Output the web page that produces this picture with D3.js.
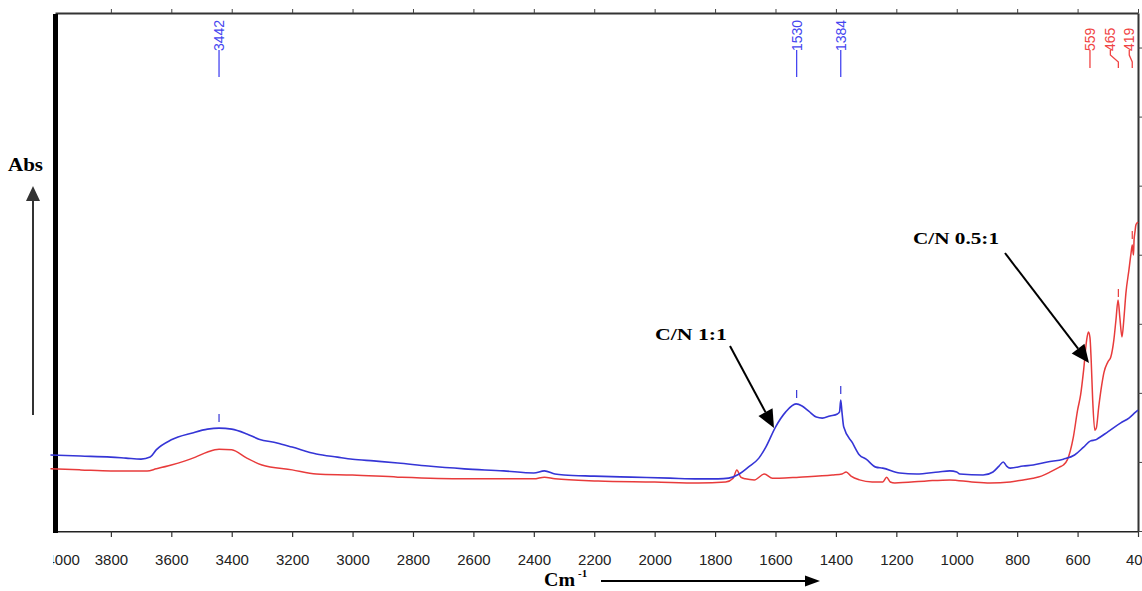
<!DOCTYPE html>
<html>
<head>
<meta charset="utf-8">
<script src="https://cdn.jsdelivr.net/npm/d3@7"></script>
<style>
  body { margin: 0; background: #fff; }
</style>
</head>
<body>
<div id="chart"></div>
<script>
const xTicks = [4000, 3800, 3600, 3400, 3200, 3000, 2800, 2600, 2400, 2200, 2000, 1800, 1600, 1400, 1200, 1000, 800, 600, 400];
const yTicks = [0, 0.2, 0.4, 0.6, 0.8, 1.0, 1.2, 1.4];

// C/N 1:1 (blue), [wavenumber, absorbance]
const cn11 = [[4000,0.220],[3900,0.217],[3800,0.214],[3750,0.211],[3700,0.208],[3670,0.214],[3650,0.235],[3600,0.264],[3530,0.284],[3480,0.295],[3442,0.298],[3400,0.295],[3350,0.281],[3310,0.266],[3250,0.255],[3200,0.243],[3120,0.223],[3050,0.214],[3000,0.208],[2930,0.203],[2850,0.197],[2750,0.188],[2630,0.180],[2500,0.174],[2400,0.168],[2365,0.174],[2330,0.165],[2300,0.162],[2200,0.159],[2077,0.156],[1950,0.153],[1855,0.151],[1790,0.151],[1755,0.153],[1720,0.165],[1690,0.185],[1655,0.211],[1632,0.243],[1600,0.301],[1566,0.345],[1532,0.368],[1512,0.362],[1490,0.347],[1465,0.330],[1445,0.327],[1420,0.333],[1395,0.339],[1388,0.345],[1384,0.379],[1380,0.345],[1374,0.301],[1345,0.255],[1322,0.220],[1300,0.208],[1268,0.185],[1245,0.182],[1189,0.168],[1133,0.165],[1060,0.171],[1023,0.174],[1000,0.171],[990,0.165],[913,0.162],[880,0.171],[860,0.188],[846,0.200],[835,0.188],[823,0.182],[780,0.188],[747,0.191],[700,0.200],[647,0.208],[610,0.220],[580,0.243],[557,0.261],[540,0.264],[534,0.267],[500,0.287],[457,0.313],[430,0.327],[407,0.345],[400,0.350]];

// C/N 0.5:1 (red)
const cn05 = [[4000,0.180],[3900,0.177],[3800,0.174],[3680,0.174],[3650,0.180],[3600,0.191],[3520,0.214],[3480,0.229],[3442,0.237],[3400,0.235],[3350,0.211],[3300,0.191],[3200,0.177],[3120,0.165],[3000,0.162],[2850,0.156],[2630,0.151],[2400,0.151],[2365,0.156],[2330,0.151],[2187,0.145],[2000,0.142],[1855,0.139],[1765,0.142],[1740,0.153],[1728,0.177],[1715,0.156],[1700,0.151],[1670,0.148],[1637,0.165],[1610,0.153],[1588,0.153],[1522,0.156],[1412,0.162],[1380,0.165],[1366,0.171],[1350,0.159],[1322,0.148],[1280,0.142],[1245,0.142],[1232,0.156],[1220,0.142],[1205,0.139],[1100,0.145],[1023,0.148],[950,0.142],[890,0.139],[823,0.142],[780,0.148],[747,0.153],[720,0.159],[690,0.171],[660,0.185],[647,0.191],[634,0.206],[614,0.272],[600,0.350],[590,0.394],[580,0.466],[570,0.553],[564,0.576],[559,0.560],[555,0.495],[550,0.379],[543,0.292],[538,0.298],[530,0.359],[520,0.423],[513,0.458],[500,0.489],[490,0.504],[480,0.553],[473,0.611],[466,0.669],[460,0.617],[453,0.562],[447,0.611],[440,0.689],[430,0.756],[423,0.805],[419,0.828],[415,0.799],[413,0.843],[410,0.866],[407,0.886],[403,0.892],[400,0.895]];

const bluePeaks = [3442, 1530, 1384];
const redPeaks = [559, 465, 419];

const width = 1142;
const height = 591;
const margin = { top: 13, right: 4, bottom: 60, left: 55 };

const blue = "#3535d6";
const blueText = "#4646f0";
const red = "#e83b3b";
const redText = "#f04444";

const svg = d3.select("#chart")
    .append("svg")
    .attr("width", width)
    .attr("height", height);

const x = d3.scaleLinear()
    .domain([3985, 400])
    .range([margin.left, width - margin.right]);

const y = d3.scaleLinear()
    .domain([0, 1.5])
    .range([height - margin.bottom, margin.top]);

const bottomY = height - margin.bottom;

svg.append("clipPath").attr("id", "axisClip")
    .append("rect")
    .attr("x", 53).attr("y", 0)
    .attr("width", width).attr("height", height);

// bottom axis
const xAxis = svg.append("g")
    .attr("transform", `translate(0,${bottomY})`)
    .attr("clip-path", "url(#axisClip)")
    .call(d3.axisBottom(x).tickValues(xTicks).tickSize(6).tickSizeOuter(0).tickFormat(d3.format("d")));

xAxis.select(".domain").attr("stroke", "#222").attr("stroke-width", 2);
xAxis.selectAll(".tick line").attr("stroke", "#333").attr("stroke-width", 1.2);
xAxis.selectAll(".tick text")
    .attr("y", 23)
    .style("font-family", "'Liberation Sans', Arial, sans-serif")
    .style("font-size", "15px")
    .attr("fill", "#222");

// the first label sits shifted and is cut by the frame
xAxis.selectAll(".tick").filter((d) => d === 4000).select("text")
    .attr("text-anchor", "start")
    .attr("x", 46 - x(4000));

// top ticks
const topAxis = svg.append("g")
    .attr("transform", `translate(0,${margin.top})`)
    .call(d3.axisTop(x).tickValues(xTicks.filter((d) => d < 3985)).tickSize(4).tickSizeOuter(0).tickFormat(""));
topAxis.select(".domain").attr("stroke", "#333").attr("stroke-width", 2);
topAxis.selectAll(".tick line").attr("stroke", "#444");

// right ticks
const rightAxis = svg.append("g")
    .attr("transform", `translate(${width - margin.right},0)`)
    .call(d3.axisRight(y).tickValues(yTicks).tickSize(4).tickSizeOuter(0).tickFormat(""));
rightAxis.select(".domain").attr("stroke", "#333").attr("stroke-width", 2);
rightAxis.selectAll(".tick line").attr("stroke", "#444");

// thick left frame
svg.append("rect")
    .attr("x", margin.left - 2)
    .attr("y", margin.top + 1)
    .attr("width", 5)
    .attr("height", bottomY - margin.top + 1)
    .attr("fill", "#000");

// spectra
const line = d3.line()
    .x((d) => x(d[0]))
    .y((d) => y(d[1]))
    .curve(d3.curveMonotoneX);

svg.append("path")
    .datum(cn05)
    .attr("d", line)
    .attr("fill", "none")
    .attr("stroke", red)
    .attr("stroke-width", 1.5);

svg.append("path")
    .datum(cn11)
    .attr("d", line)
    .attr("fill", "none")
    .attr("stroke", blue)
    .attr("stroke-width", 1.6);

function valueAt(series, wn) {
    for (let i = 1; i < series.length; i++) {
        const a = series[i - 1], b = series[i];
        if (wn <= a[0] && wn >= b[0]) {
            const t = (a[0] - wn) / (a[0] - b[0]);
            return a[1] + t * (b[1] - a[1]);
        }
    }
    return series[series.length - 1][1];
}

// peak markers on the curves
function peakMarks(peaks, series, color) {
    svg.selectAll(null)
        .data(peaks)
        .enter()
        .append("line")
        .attr("x1", (d) => x(d))
        .attr("x2", (d) => x(d))
        .attr("y1", (d) => y(valueAt(series, d)) - 14)
        .attr("y2", (d) => y(valueAt(series, d)) - 6)
        .attr("stroke", color)
        .attr("stroke-width", 1.2);
}
peakMarks(bluePeaks, cn11, blue);
peakMarks(redPeaks.slice(1), cn05, red);

// peak labels at the top
const labelBase = 51;
function peakLabels(peaks, color, lineEnd, offsets) {
    const g = svg.selectAll(null)
        .data(peaks)
        .enter()
        .append("g");

    g.append("text")
        .attr("transform", (d, i) => `translate(${x(d) + offsets[i]},${labelBase}) rotate(-90)`)
        .attr("dy", "0.35em")
        .attr("text-anchor", "start")
        .style("font-family", "'Liberation Sans', Arial, sans-serif")
        .style("font-size", "14px")
        .attr("fill", color)
        .text((d) => d);

    g.append("path")
        .attr("d", (d, i) => {
            const lx = x(d) + offsets[i];
            const px = x(d);
            if (offsets[i] === 0) return `M${px},${labelBase - 1}V${lineEnd}`;
            return `M${lx},${labelBase - 1}V${labelBase + 4}L${px},${labelBase + 11}V${lineEnd}`;
        })
        .attr("fill", "none")
        .attr("stroke", color)
        .attr("stroke-width", 1.3);
}
peakLabels(bluePeaks, blueText, 77, [0, 0, 0]);
peakLabels(redPeaks, redText, 68, [0, -8, -3]);

// arrow helper
function arrow(x1, y1, x2, y2, head, half, color, w) {
    const a = Math.atan2(y2 - y1, x2 - x1);
    const bx = x2 - head * Math.cos(a), by = y2 - head * Math.sin(a);
    svg.append("line")
        .attr("x1", x1).attr("y1", y1)
        .attr("x2", bx).attr("y2", by)
        .attr("stroke", color)
        .attr("stroke-width", w);
    const px = -Math.sin(a) * half, py = Math.cos(a) * half;
    svg.append("path")
        .attr("d", `M${x2},${y2}L${bx + px},${by + py}L${bx - px},${by - py}Z`)
        .attr("fill", color);
}

const serif = "'Liberation Serif', 'Times New Roman', serif";

// Abs label and arrow
svg.append("text")
    .attr("x", 8)
    .attr("y", 171)
    .attr("textLength", 35)
    .attr("lengthAdjust", "spacingAndGlyphs")
    .style("font-family", serif)
    .style("font-weight", "bold")
    .style("font-size", "18px")
    .text("Abs");
arrow(33, 415, 33, 186, 15, 7, "#333", 2);

// Cm-1 label and arrow
svg.append("text")
    .attr("x", 544)
    .attr("y", 586)
    .attr("textLength", 31)
    .attr("lengthAdjust", "spacingAndGlyphs")
    .style("font-family", serif)
    .style("font-weight", "bold")
    .style("font-size", "18px")
    .text("Cm");
svg.append("text")
    .attr("x", 578)
    .attr("y", 577)
    .style("font-family", serif)
    .style("font-weight", "bold")
    .style("font-size", "11px")
    .text("-1");
arrow(601, 581, 820, 581, 15, 5.5, "#000", 2);

// C/N annotations
svg.append("text")
    .attr("x", 655)
    .attr("y", 340)
    .attr("textLength", 72)
    .attr("lengthAdjust", "spacingAndGlyphs")
    .style("font-family", serif)
    .style("font-weight", "bold")
    .style("font-size", "17px")
    .text("C/N 1:1");
arrow(730, 346, 774, 428, 18, 8, "#000", 2);

svg.append("text")
    .attr("x", 913)
    .attr("y", 244)
    .attr("textLength", 86)
    .attr("lengthAdjust", "spacingAndGlyphs")
    .style("font-family", serif)
    .style("font-weight", "bold")
    .style("font-size", "17px")
    .text("C/N 0.5:1");
arrow(1005, 253, 1089, 363, 18, 8, "#000", 2);
</script>
</body>
</html>
